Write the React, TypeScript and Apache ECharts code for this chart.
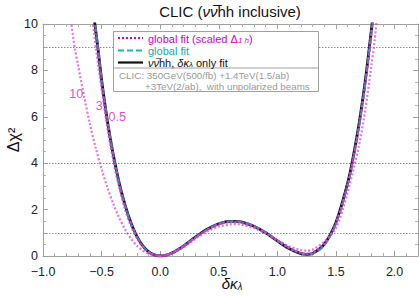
import React, { useEffect, useRef } from "react";
import * as echarts from "echarts";

// Δχ² vs δκλ
const blackFit: number[][] = [
  [-0.565, 10.3], [-0.53, 8.9], [-0.5, 7.6], [-0.45, 5.8], [-0.4, 4.35], [-0.35, 3.15], [-0.3, 2.2],
  [-0.25, 1.43], [-0.2, 0.86], [-0.15, 0.45], [-0.1, 0.19], [-0.05, 0.05], [0, 0], [0.05, 0.04],
  [0.1, 0.13], [0.15, 0.27], [0.2, 0.44], [0.3, 0.81], [0.4, 1.15], [0.5, 1.39], [0.6, 1.49],
  [0.65, 1.49], [0.7, 1.46], [0.8, 1.28], [0.9, 1.0], [1.0, 0.65], [1.1, 0.32], [1.2, 0.1],
  [1.25, 0.07], [1.3, 0.11], [1.4, 0.5], [1.5, 1.45], [1.6, 3.15], [1.65, 4.35], [1.7, 5.8],
  [1.75, 7.55], [1.8, 9.65], [1.815, 10.3],
];
const cyanFit: number[][] = [
  [-0.563, 10.3], [-0.53, 8.95], [-0.5, 7.65], [-0.45, 5.85], [-0.4, 4.38], [-0.35, 3.17], [-0.3, 2.2],
  [-0.25, 1.42], [-0.2, 0.85], [-0.15, 0.44], [-0.1, 0.18], [-0.05, 0.05], [0, 0], [0.05, 0.04],
  [0.1, 0.13], [0.15, 0.27], [0.2, 0.44], [0.3, 0.8], [0.4, 1.14], [0.5, 1.39], [0.6, 1.5],
  [0.65, 1.5], [0.7, 1.47], [0.8, 1.3], [0.9, 1.02], [1.0, 0.68], [1.1, 0.35], [1.2, 0.12],
  [1.25, 0.08], [1.3, 0.1], [1.4, 0.45], [1.5, 1.38], [1.6, 3.05], [1.65, 4.25], [1.7, 5.7],
  [1.75, 7.45], [1.8, 9.55], [1.818, 10.3],
];
const scaled10: number[][] = [
  [-0.765, 10.3], [-0.73, 9.0], [-0.7, 8.2], [-0.65, 6.9], [-0.6, 5.7], [-0.55, 4.65], [-0.5, 3.75],
  [-0.45, 2.95], [-0.4, 2.25], [-0.35, 1.65], [-0.3, 1.15], [-0.25, 0.75], [-0.2, 0.45], [-0.15, 0.24],
  [-0.1, 0.1], [-0.05, 0.025], [0, 0], [0.05, 0.03], [0.1, 0.1], [0.2, 0.37], [0.3, 0.74],
  [0.4, 1.06], [0.5, 1.27], [0.6, 1.36], [0.65, 1.37], [0.7, 1.34], [0.8, 1.21], [0.9, 0.97],
  [1.0, 0.68], [1.1, 0.42], [1.2, 0.26], [1.25, 0.23], [1.3, 0.27], [1.4, 0.62], [1.5, 1.2],
  [1.6, 2.75], [1.7, 4.85], [1.75, 6.3], [1.8, 8.1], [1.83, 9.3], [1.85, 10.3],
];
const scaled3: number[][] = [
  [-0.58, 10.3], [-0.55, 9.0], [-0.5, 7.2], [-0.45, 5.5], [-0.4, 4.1], [-0.35, 2.95], [-0.3, 2.0],
  [-0.25, 1.3], [-0.2, 0.77], [-0.15, 0.4], [-0.1, 0.17], [-0.05, 0.04], [0, 0], [0.05, 0.04],
  [0.1, 0.13], [0.15, 0.27], [0.2, 0.43], [0.3, 0.79], [0.4, 1.12], [0.5, 1.36], [0.6, 1.46],
  [0.65, 1.46], [0.7, 1.43], [0.8, 1.26], [0.9, 0.99], [1.0, 0.66], [1.1, 0.34], [1.2, 0.13],
  [1.25, 0.1], [1.3, 0.14], [1.4, 0.5], [1.5, 1.4], [1.6, 3.05], [1.65, 4.2], [1.7, 5.6],
  [1.75, 7.35], [1.8, 9.4], [1.82, 10.3],
];
const scaled05: number[][] = [
  [-0.565, 10.3], [-0.53, 8.9], [-0.5, 7.55], [-0.45, 5.78], [-0.4, 4.32], [-0.35, 3.13], [-0.3, 2.18],
  [-0.25, 1.42], [-0.2, 0.85], [-0.15, 0.44], [-0.1, 0.18], [-0.05, 0.05], [0, 0], [0.05, 0.04],
  [0.1, 0.13], [0.15, 0.27], [0.2, 0.44], [0.3, 0.8], [0.4, 1.14], [0.5, 1.38], [0.6, 1.48],
  [0.65, 1.48], [0.7, 1.45], [0.8, 1.28], [0.9, 1.0], [1.0, 0.66], [1.1, 0.34], [1.2, 0.12],
  [1.25, 0.09], [1.3, 0.13], [1.4, 0.5], [1.5, 1.43], [1.6, 3.1], [1.65, 4.3], [1.7, 5.75],
  [1.75, 7.5], [1.8, 9.6], [1.815, 10.3],
];
const refLevels: number[] = [1, 4, 9];
const scaleLabels: string[] = ["10", "3", "0.5"];
const scaleLabelPos: number[][] = [[-0.716, 6.98], [-0.52, 6.47], [-0.366, 5.99]];

const X_MIN = -1.0, X_MAX = 2.2, Y_MIN = 0, Y_MAX = 10;

const FONT = "Liberation Sans, Arial, sans-serif";
const MAG = "rgba(214, 70, 214, 0.75)";
const MAG_TXT = "#cc22cc";
const CYAN = "#19b4bf";

export default function App() {
  const ref = useRef<HTMLDivElement>(null);
  useEffect(() => {
    if (!ref.current) return;
    const chart = echarts.init(ref.current, undefined, { renderer: "svg" });
    const fmtX = (v: number) => (v < 0 ? "\u2212" + Math.abs(v).toFixed(1) : v.toFixed(1));
    const axisCommon = {
      axisLine: { show: true, onZero: false, lineStyle: { color: "#a0a0a0", width: 1 } },
      axisTick: { show: true, inside: true, length: 5, lineStyle: { color: "#a0a0a0" } },
      minorTick: { show: true, length: 3, lineStyle: { color: "#b0b0b0" } },
      splitLine: { show: false },
    };
    const magSeries = (name: string, data: number[][], idx: number) => ({
      name,
      type: "line",
      data,
      smooth: 0.3,
      symbol: "none",
      z: 4,
      lineStyle: { color: MAG, width: 2.2, type: [2, 2] },
      markPoint: {
        symbol: "circle",
        symbolSize: 0,
        data: [{ coord: scaleLabelPos[idx], value: scaleLabels[idx] }],
        label: {
          show: true,
          position: "inside",
          formatter: scaleLabels[idx],
          color: MAG_TXT,
          fontSize: 12.5,
          fontFamily: FONT,
          opacity: 0.8,
        },
      },
    });
    chart.setOption({
      animation: false,
      grid: { left: 43, right: 1, top: 24, bottom: 40, containLabel: false },
      xAxis: [
        {
          type: "value", min: X_MIN, max: X_MAX, interval: 0.5, position: "bottom",
          ...axisCommon,
          minorTick: { ...axisCommon.minorTick, splitNumber: 5 },
          axisLabel: { formatter: fmtX, color: "#222", fontSize: 12.5, fontFamily: FONT, margin: 9, showMaxLabel: false },
        },
        {
          type: "value", min: X_MIN, max: X_MAX, interval: 0.5, position: "top",
          ...axisCommon,
          minorTick: { ...axisCommon.minorTick, splitNumber: 5 },
          axisLabel: { show: false },
        },
      ],
      yAxis: [
        {
          type: "value", min: Y_MIN, max: Y_MAX, interval: 2, position: "left",
          ...axisCommon,
          minorTick: { ...axisCommon.minorTick, splitNumber: 4 },
          axisLabel: { color: "#222", fontSize: 12.5, fontFamily: FONT, margin: 5 },
        },
        {
          type: "value", min: Y_MIN, max: Y_MAX, interval: 2, position: "right",
          ...axisCommon,
          minorTick: { ...axisCommon.minorTick, splitNumber: 4 },
          axisLabel: { show: false },
        },
      ],
      series: [
        {
          name: "only",
          type: "line",
          data: blackFit,
          smooth: 0.3,
          symbol: "none",
          z: 2,
          lineStyle: { color: "#111", width: 2.8 },
          markLine: {
            silent: true,
            symbol: "none",
            label: { show: false },
            lineStyle: { color: "#8a8a8a", width: 1, type: [1.5, 1.5] },
            data: refLevels.map((v) => ({ yAxis: v })),
            z: 1,
          },
        },
        {
          name: "global",
          type: "line",
          data: cyanFit,
          smooth: 0.3,
          symbol: "none",
          z: 3,
          lineStyle: { color: CYAN, width: 2, type: [6, 3], opacity: 0.75 },
        },
        magSeries("s10", scaled10, 0),
        magSeries("s3", scaled3, 1),
        magSeries("s05", scaled05, 2),
      ],
      graphic: [
        {
          type: "text", x: 230, y: 11,
          style: {
            text: "{n|CLIC (}{i|\u03bd\u03bd\u0305}{n|hh inclusive)}",
            align: "center", verticalAlign: "middle",
            rich: {
              n: { fontSize: 15, fontFamily: FONT, fill: "#111" },
              i: { fontSize: 15, fontFamily: FONT, fontStyle: "italic", fill: "#111" },
            },
          },
        },
        {
          type: "text", x: 13, y: 140, rotation: Math.PI / 2,
          style: {
            text: "\u0394\u03c7\u00b2", align: "center", verticalAlign: "middle",
            fontSize: 16, fontFamily: FONT, fill: "#111",
          },
        },
        {
          type: "text", x: 232, y: 282,
          style: {
            text: "{m|\u03b4\u03ba}{s|\u03bb}", align: "center", verticalAlign: "middle",
            rich: {
              m: { fontSize: 15, fontFamily: FONT, fontStyle: "italic", fill: "#111", lineHeight: 18, verticalAlign: "bottom" },
              s: { fontSize: 10, fontFamily: FONT, fontStyle: "italic", fill: "#111", lineHeight: 10, verticalAlign: "bottom" },
            },
          },
        },
        // legend box
        {
          type: "rect", shape: { x: 113.5, y: 31.5, width: 205, height: 60 },
          style: { fill: "#fff", stroke: "#a0a0a0", lineWidth: 1 }, z: 10,
        },
        {
          type: "line", shape: { x1: 113.5, y1: 68, x2: 318.5, y2: 68 },
          style: { stroke: "#a0a0a0", lineWidth: 1 }, z: 11,
        },
        {
          type: "line", shape: { x1: 118, y1: 38, x2: 143, y2: 38 },
          style: { stroke: "#cc00cc", lineWidth: 2.2, lineDash: [2, 2] }, z: 11,
        },
        {
          type: "line", shape: { x1: 118, y1: 50.5, x2: 143, y2: 50.5 },
          style: { stroke: CYAN, lineWidth: 2.2, lineDash: [6, 3] }, z: 11,
        },
        {
          type: "line", shape: { x1: 118, y1: 62.5, x2: 143, y2: 62.5 },
          style: { stroke: "#111", lineWidth: 2.2 }, z: 11,
        },
        {
          type: "text", x: 148, y: 38, z: 11,
          style: {
            text: "{a|global fit (scaled \u0394}{s|1 h}{a|)}", verticalAlign: "middle",
            rich: {
              a: { fontSize: 11, fontFamily: FONT, fill: "#cc00cc", lineHeight: 12, verticalAlign: "bottom" },
              s: { fontSize: 8, fontFamily: FONT, fontStyle: "italic", fill: "#cc00cc", lineHeight: 8, verticalAlign: "bottom" },
            },
          },
        },
        {
          type: "text", x: 148, y: 50.5, z: 11,
          style: { text: "global fit", verticalAlign: "middle", fontSize: 11, fontFamily: FONT, fill: "#20a8b0" },
        },
        {
          type: "text", x: 148, y: 62.5, z: 11,
          style: {
            text: "{i|\u03bd\u03bd\u0305}{a|hh, }{i|\u03b4\u03ba}{s|\u03bb}{a| only fit}", verticalAlign: "middle",
            rich: {
              a: { fontSize: 11, fontFamily: FONT, fill: "#111", lineHeight: 12, verticalAlign: "bottom" },
              i: { fontSize: 11, fontFamily: FONT, fontStyle: "italic", fill: "#111", lineHeight: 12, verticalAlign: "bottom" },
              s: { fontSize: 8, fontFamily: FONT, fontStyle: "italic", fill: "#111", lineHeight: 8, verticalAlign: "bottom" },
            },
          },
        },
        {
          type: "text", x: 119, y: 75.8, z: 11,
          style: { text: "CLIC: 350GeV(500/fb) +1.4TeV(1.5/ab)", verticalAlign: "middle", fontSize: 9.8, fontFamily: FONT, fill: "#999" },
        },
        {
          type: "text", x: 145, y: 86, z: 11,
          style: { text: "+3TeV(2/ab),  with unpolarized beams", verticalAlign: "middle", fontSize: 9.8, fontFamily: FONT, fill: "#999" },
        },
      ],
    });
    return () => chart.dispose();
  }, []);
  return <div ref={ref} style={{ width: 419, height: 296, position: "absolute", left: 0, top: 0 }} />;
}
